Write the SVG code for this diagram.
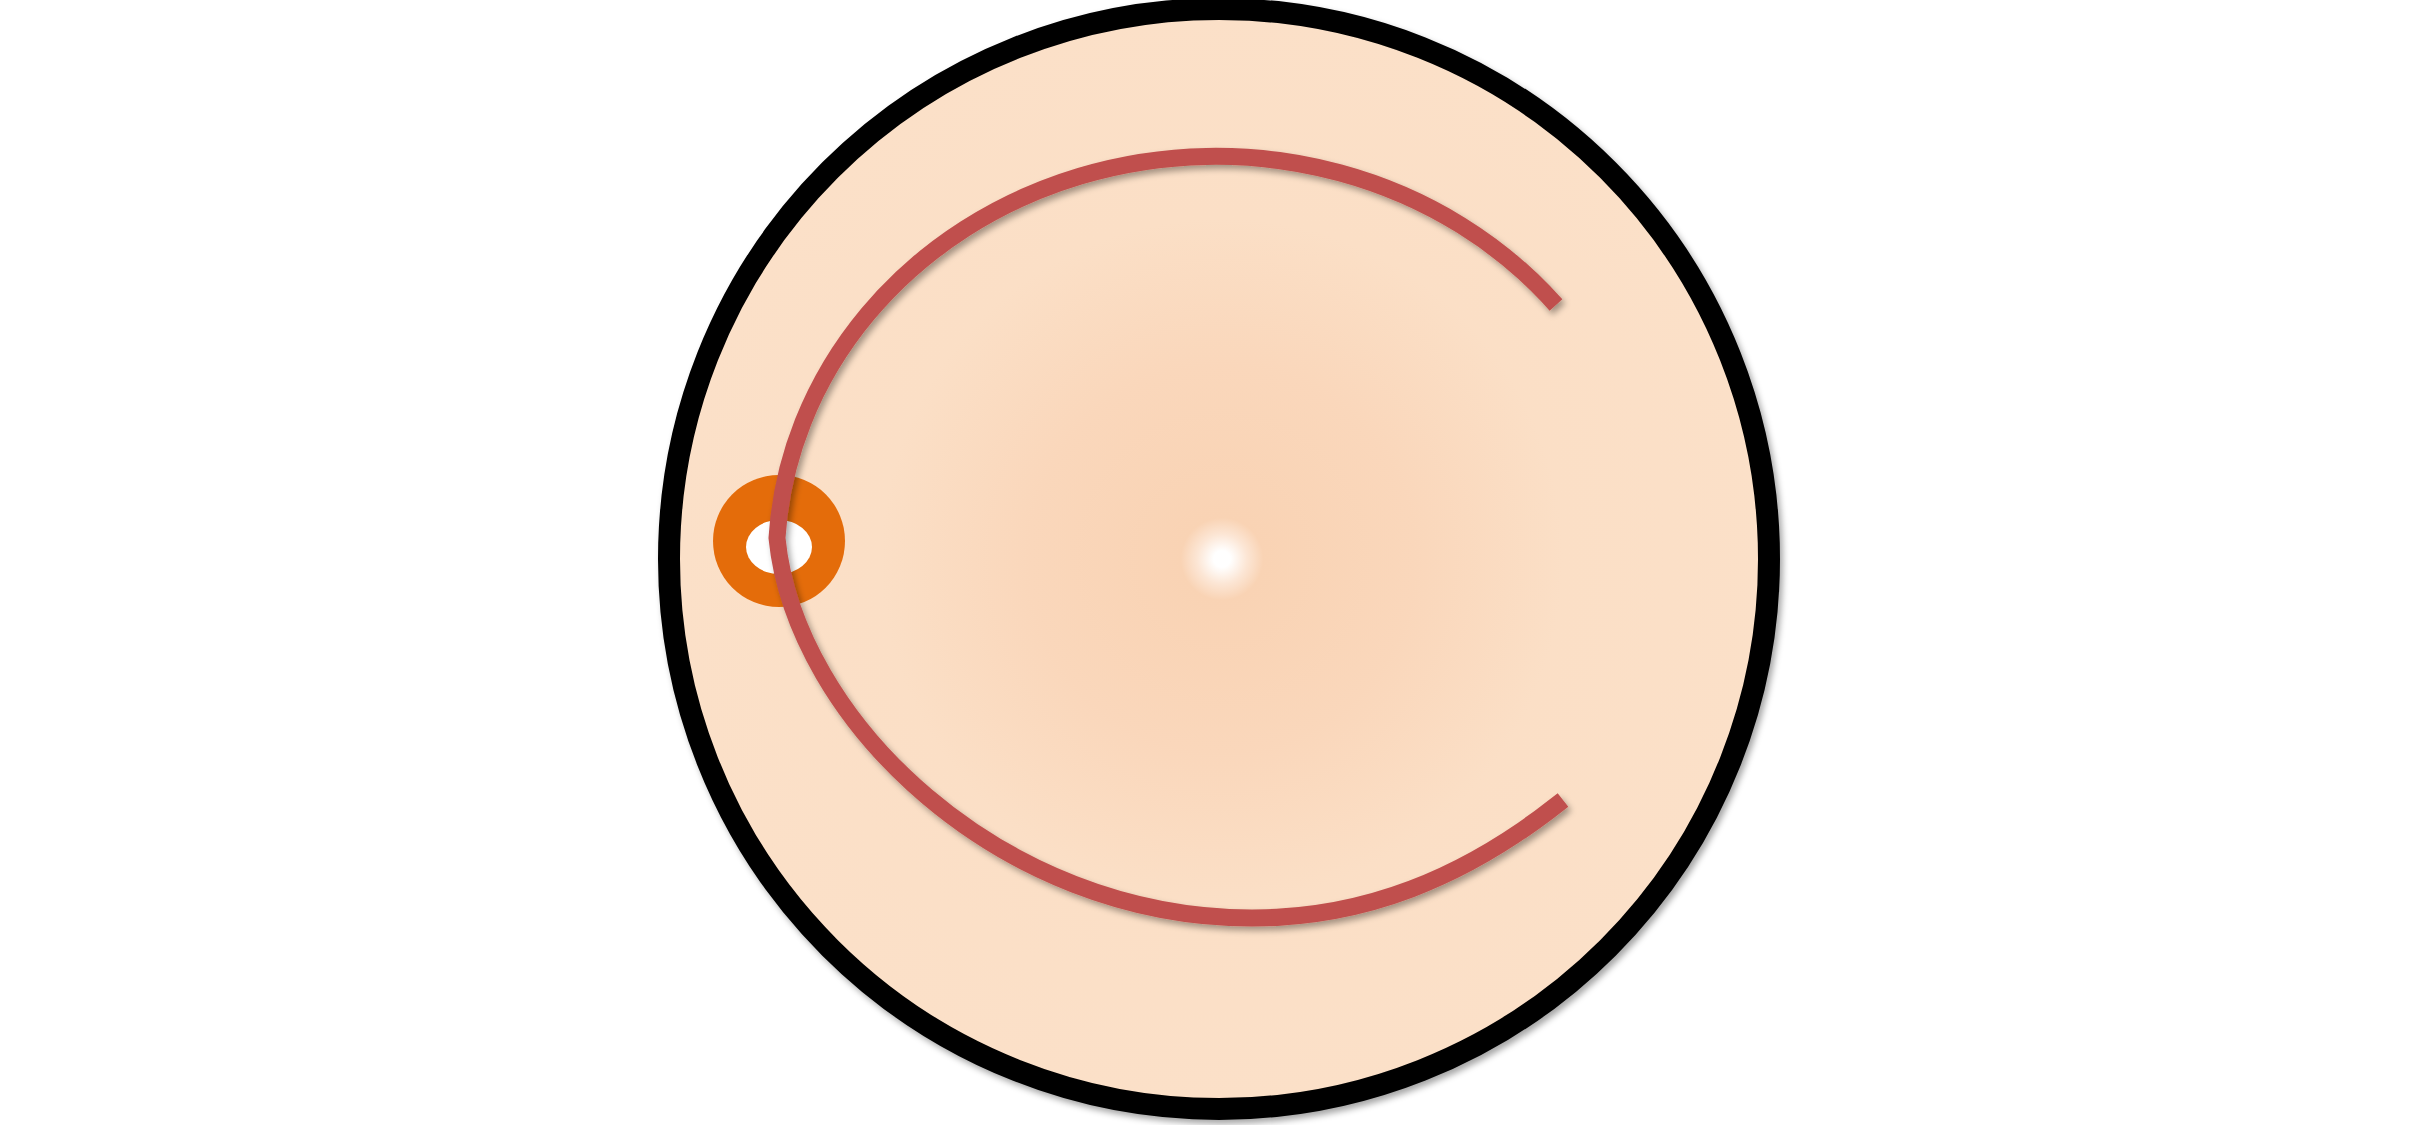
<svg xmlns="http://www.w3.org/2000/svg" width="2436" height="1125" viewBox="0 0 2436 1125">
  <style>
    .disc { fill: url(#peach); stroke: #000000; stroke-width: 22; }
    .ring { fill: #E46C0A; }
    .hole { fill: #FFFFFF; }
    .curve { fill: none; stroke: #C0504D; stroke-width: 17; stroke-linecap: butt; stroke-linejoin: miter; stroke-miterlimit: 10; }
  </style>
  <defs>
    <radialGradient id="peach" cx="1222" cy="559" r="550" gradientUnits="userSpaceOnUse">
      <stop offset="0" stop-color="#FFFFFF"/>
      <stop offset="0.015" stop-color="#FFFFFF"/>
      <stop offset="0.045" stop-color="#FCE6D5"/>
      <stop offset="0.075" stop-color="#F9D3B4"/>
      <stop offset="0.35" stop-color="#FAD7BB"/>
      <stop offset="0.62" stop-color="#FBDFC6"/>
      <stop offset="1" stop-color="#FBE0C8"/>
    </radialGradient>
    <filter id="shadow" x="-10%" y="-10%" width="120%" height="120%">
      <feDropShadow dx="3" dy="4" stdDeviation="3" flood-color="#000000" flood-opacity="0.35"/>
    </filter>
  </defs>
  <rect width="2436" height="1125" fill="#FFFFFF"/>
  <g id="disc">
    <circle class="disc" cx="1219" cy="559" r="550" filter="url(#shadow)"/>
  </g>
  <g id="ring">
    <circle class="ring" cx="779" cy="541" r="66"/>
    <ellipse class="hole" cx="779" cy="547" rx="33" ry="27"/>
  </g>
  <g id="connectors">
    <path class="curve" filter="url(#shadow)" d="M 1556 305 A 439.5 405 0 0 0 777 538 C 795 720 1000 918 1252 918 C 1362 918 1463 880 1563 800"/>
  </g>
</svg>
